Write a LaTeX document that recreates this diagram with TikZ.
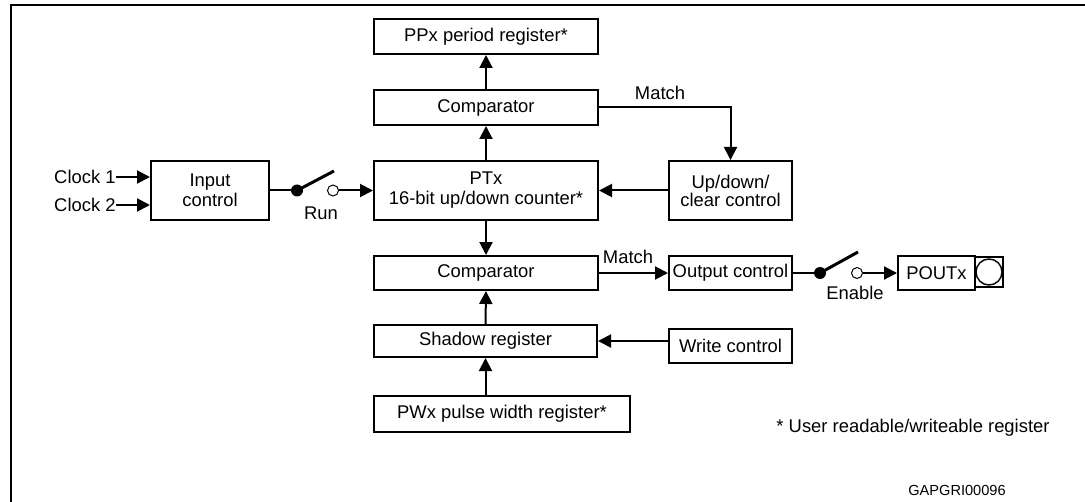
\documentclass[tikz,border=0pt]{standalone}
\usepackage{fontspec}
\setmainfont{Liberation Sans}
\usetikzlibrary{arrows.meta}

\tikzset{
    blk/.style={draw, line width=1pt, inner sep=1pt, align=center},
    arr/.style={line width=1pt, -{Triangle[length=6.5pt,width=6.5pt]}},
    wire/.style={line width=1pt},
    lever/.style={line width=1.5pt},
    dotfill/.style={circle, fill, minimum size=6pt, inner sep=0pt},
    dotopen/.style={circle, draw, line width=0.5pt, minimum size=5.5pt, inner sep=0pt},
}

\begin{document}
\begin{tikzpicture}[x=0.5pt, y=-0.5pt, font=\fontsize{9.2}{10}\selectfont]
    \useasboundingbox (0, 0) rectangle (1085, 502);
    \draw[line width=1pt] (10.5, 502) -- (10.5, 5.5) -- (1085, 5.5);

    % counter column
    \node[blk, minimum width=112pt, minimum height=17.5pt] (ppx) at (486, 36.5) {PPx period register*};
    \node[blk, minimum width=112pt, minimum height=17.5pt] (cmpa) at (486, 107.5) {Comparator};
    \node[blk, minimum width=112pt, minimum height=29.5pt] (ptx) at (486, 190.5) {PTx\\16-bit up/down counter*};
    \node[blk, minimum width=112pt, minimum height=17pt] (cmpb) at (486, 273) {Comparator};
    \node[blk, minimum width=111.5pt, minimum height=16pt] (shadow) at (485.5, 341) {Shadow register};
    \node[blk, minimum width=128pt, minimum height=18pt] (pwx) at (502, 414) {PWx pulse width register*};

    % side blocks
    \node[blk, minimum width=59pt, minimum height=29.5pt] (inp) at (210, 190.5) {Input\\control};
    \node[blk, minimum width=61.5pt, minimum height=29.5pt] (updn) at (730.5, 190.5) {Up/down/\\[-1pt]clear control};
    \node[blk, minimum width=61.5pt, minimum height=17pt] (outc) at (730.5, 273) {Output control};
    \node[blk, minimum width=61.5pt, minimum height=17pt] (wctl) at (730.5, 346) {Write control};
    \node[blk, minimum width=38.5pt, minimum height=17pt] (poutx) at (936.5, 273) {POUTx};
    \node[draw, line width=1pt, minimum width=14pt, minimum height=15pt, inner sep=0pt] (pad) at (989, 272) {};
    \node[draw, circle, line width=0.7pt, minimum size=13pt, inner sep=0pt] (padc) at (pad.center) {};

    % clocks
    \node[anchor=east, inner sep=0pt] (clk1) at (116, 177) {Clock 1};
    \node[anchor=east, inner sep=0pt] (clk2) at (116, 205) {Clock 2};
    \draw[arr] (clk1.east) -- (clk1.east -| inp.west);
    \draw[arr] (clk2.east) -- (clk2.east -| inp.west);

    % run switch
    \node[dotfill] (rund) at (297, 190.5) {};
    \node[dotopen] (runo) at (333, 190.5) {};
    \coordinate (runl) at (334, 171);
    \draw[wire] (inp.east) -- (rund);
    \draw[lever] (rund.center) -- (runl);
    \draw[arr] (runo.east) -- (ptx.west);
    \node (run) at (321, 213) {Run};

    % enable switch
    \node[dotfill] (end) at (820, 273) {};
    \node[dotopen] (eno) at (857, 273) {};
    \coordinate (enl) at (858, 252);
    \draw[wire] (outc.east) -- (end);
    \draw[lever] (end.center) -- (enl);
    \draw[arr] (eno.east) -- (poutx.west);
    \node (enable) at (855, 293) {Enable};

    % vertical flow
    \draw[arr] (ptx.north) -- (cmpa.south);
    \draw[arr] (cmpa.north) -- (ppx.south);
    \draw[arr] (ptx.south) -- (cmpb.north);
    \draw[arr] (shadow.north) -- (cmpb.south);
    \draw[arr] (pwx.north -| shadow.south) -- (shadow.south);

    % horizontal flow
    \draw[arr] (cmpa.east) -| (updn.north);
    \node (matcha) at (660, 93) {Match};
    \draw[arr] (updn.west) -- (ptx.east);
    \draw[arr] (cmpb.east) -- (outc.west);
    \node (matchb) at (628, 257) {Match};
    \draw[arr] (wctl.west |- shadow.east) -- (shadow.east);

    \node (note) at (913, 428) {* User readable/writeable register};
    \node[font=\fontsize{7.3}{9}\selectfont] (code) at (957, 490) {GAPGRI00096};
\end{tikzpicture}
\end{document}
